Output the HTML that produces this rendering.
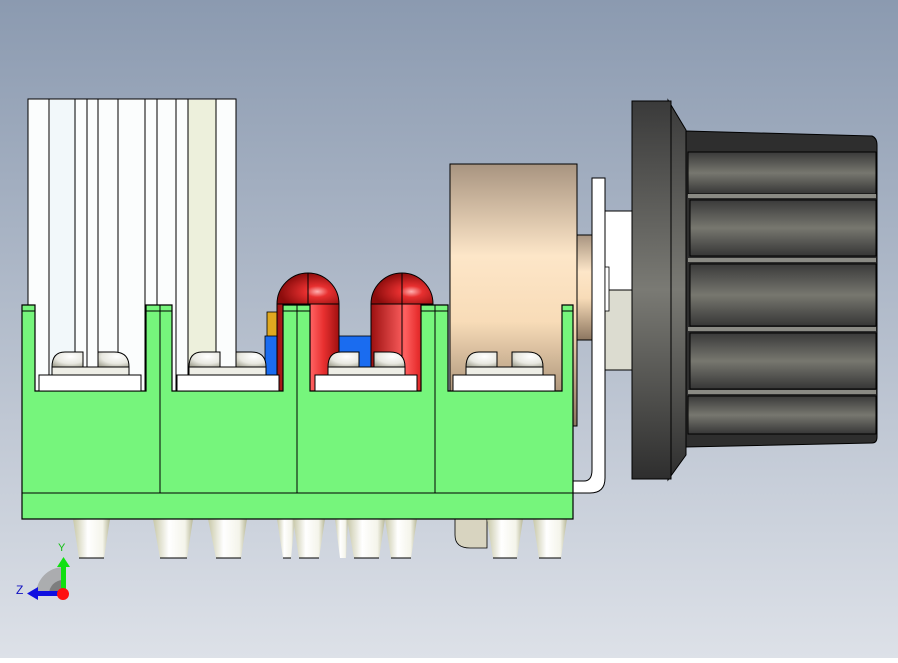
<!DOCTYPE html>
<html><head><meta charset="utf-8"><style>html,body{margin:0;padding:0}body{width:898px;height:658px;overflow:hidden}</style></head>
<body>
<svg width="898" height="658" viewBox="0 0 898 658" xmlns="http://www.w3.org/2000/svg" font-family="Liberation Sans, sans-serif">
<defs>
<linearGradient id="bg" x1="0" y1="0" x2="0" y2="1"><stop offset="0" stop-color="#8b9ab0"/><stop offset="1" stop-color="#dde1e8"/></linearGradient>
<linearGradient id="pin" x1="0" y1="0" x2="1" y2="0"><stop offset="0" stop-color="#c8c8a8"/><stop offset="0.4" stop-color="#ffffff"/><stop offset="0.8" stop-color="#f4f4ea"/><stop offset="1" stop-color="#b8b898"/></linearGradient>
<linearGradient id="tan" x1="0" y1="0" x2="0" y2="1"><stop offset="0" stop-color="#a89480"/><stop offset="0.35" stop-color="#fde6c8"/><stop offset="0.6" stop-color="#f8dcb8"/><stop offset="1" stop-color="#8c7660"/></linearGradient>
<linearGradient id="red" x1="0" y1="0" x2="1" y2="0"><stop offset="0" stop-color="#9c1010"/><stop offset="0.55" stop-color="#ff6060"/><stop offset="0.75" stop-color="#e83030"/><stop offset="1" stop-color="#a01010"/></linearGradient>
<radialGradient id="dome" cx="0.65" cy="0.6" r="0.6"><stop offset="0" stop-color="#ffb0b0"/><stop offset="0.3" stop-color="#e83030"/><stop offset="1" stop-color="#8c0c0c"/></radialGradient>
<linearGradient id="flange" x1="0" y1="0" x2="0" y2="1"><stop offset="0" stop-color="#3a3a3a"/><stop offset="0.5" stop-color="#7a7a74"/><stop offset="1" stop-color="#2e2e2e"/></linearGradient>
<linearGradient id="rib" x1="0" y1="0" x2="0" y2="1"><stop offset="0" stop-color="#3a3a3a"/><stop offset="0.5" stop-color="#77776f"/><stop offset="1" stop-color="#363636"/></linearGradient>
<radialGradient id="screw" cx="0.6" cy="0.3" r="0.8"><stop offset="0" stop-color="#ffffff"/><stop offset="0.6" stop-color="#e8e8e0"/><stop offset="1" stop-color="#a8a898"/></radialGradient>
</defs>
<rect width="898" height="658" fill="url(#bg)"/>

<!-- heatsink -->
<rect x="28" y="99" width="208" height="292" fill="#fbfdfd" stroke="#000" stroke-width="1"/>
<rect x="50" y="100" width="26" height="290" fill="#f2f8fa"/>
<rect x="188" y="100" width="28" height="290" fill="#edf0dc"/>
<g stroke="#000" stroke-width="1">
<line x1="49" y1="99" x2="49" y2="391"/><line x1="75" y1="99" x2="75" y2="391"/><line x1="87" y1="99" x2="87" y2="391"/>
<line x1="98" y1="99" x2="98" y2="391"/><line x1="118" y1="99" x2="118" y2="391"/><line x1="145" y1="99" x2="145" y2="391"/>
<line x1="157" y1="99" x2="157" y2="391"/><line x1="176" y1="99" x2="176" y2="391"/><line x1="188" y1="99" x2="188" y2="391"/>
<line x1="216" y1="99" x2="216" y2="391"/>
</g>

<rect x="267" y="312" width="10" height="26" fill="#e0a820" stroke="#000" stroke-width="0.8"/>
<rect x="265" y="336" width="170" height="40" fill="#1a6cf0" stroke="#000" stroke-width="0.8"/>

<g stroke="#000" stroke-width="1">
<path d="M277 304 A31 31 0 0 1 339 304 Z" fill="url(#dome)"/>
<rect x="277" y="304" width="62" height="88" fill="url(#red)"/>
<line x1="308" y1="273" x2="308" y2="392"/>
<path d="M371 304 A31 31 0 0 1 433 304 Z" fill="url(#dome)"/>
<rect x="371" y="304" width="62" height="88" fill="url(#red)"/>
<line x1="402" y1="273" x2="402" y2="392"/>
</g>

<rect x="577" y="235" width="17" height="105" fill="url(#tan)" stroke="#000" stroke-width="1"/>
<rect x="450" y="164" width="127" height="262" fill="url(#tan)" stroke="#000" stroke-width="1"/>
<rect x="605" y="211" width="28" height="79" fill="#ffffff" stroke="#000" stroke-width="1"/>
<rect x="605" y="290" width="28" height="80" fill="#dcdcd0" stroke="#000" stroke-width="1"/>
<path d="M592 178 H605 V478 Q605 493 590 493 H573 V481 H584 Q592 481 592 470 Z" fill="#fff" stroke="#000" stroke-width="1"/>
<rect x="605" y="267" width="4" height="44" fill="#fff" stroke="#000" stroke-width="0.8"/>

<!-- knob -->
<path d="M668 100 L686 130 L686 455 L668 480 Z" fill="url(#flange)" stroke="#000" stroke-width="1"/>
<rect x="632" y="101" width="39" height="378" fill="url(#flange)" stroke="#000" stroke-width="1"/>
<path d="M686 131 L872 136 Q877 138 877 145 L877 437 Q877 443 872 443 L686 447 Z" fill="#2e2e2e" stroke="#000" stroke-width="1"/>
<g stroke="#000" stroke-width="1">
<rect x="688" y="152" width="188" height="42" fill="url(#rib)"/>
<rect x="690" y="200" width="186" height="56" fill="url(#rib)"/>
<rect x="690" y="264" width="186" height="62" fill="url(#rib)"/>
<rect x="690" y="333" width="186" height="56" fill="url(#rib)"/>
<rect x="688" y="396" width="188" height="38" fill="url(#rib)"/>
</g>
<g fill="#8a8a84">
<rect x="688" y="194" width="188" height="4"/><rect x="688" y="258" width="188" height="4"/>
<rect x="688" y="327" width="188" height="4"/><rect x="688" y="390" width="188" height="4"/>
</g>

<g fill="url(#pin)">
<path d="M455 519 H487 V548 H470 Q455 548 455 535 Z" fill="#d8d4c0" stroke="#000" stroke-width="0.8"/>
<path d="M73 519 H110 L104 558 H79 Z"/>
<path d="M153 519 H193 L187 558 H160 Z"/>
<path d="M208 519 H247 L241 558 H216 Z"/>
<path d="M277 519 H295 L291 558 H283 Z"/>
<path d="M293 519 H325 L319 558 H299 Z"/>
<path d="M335 519 H348 L346 558 H340 Z"/>
<path d="M347 519 H385 L379 558 H354 Z"/>
<path d="M385 519 H417 L411 558 H391 Z"/>
<path d="M487 519 H523 L517 558 H493 Z"/>
<path d="M533 519 H567 L561 558 H539 Z"/>
</g>
<g stroke="#000" stroke-width="1">
<line x1="79" y1="558" x2="104" y2="558"/><line x1="160" y1="558" x2="187" y2="558"/><line x1="216" y1="558" x2="241" y2="558"/>
<line x1="283" y1="558" x2="291" y2="558"/><line x1="299" y1="558" x2="319" y2="558"/><line x1="354" y1="558" x2="379" y2="558"/>
<line x1="391" y1="558" x2="411" y2="558"/><line x1="493" y1="558" x2="517" y2="558"/><line x1="539" y1="558" x2="561" y2="558"/>
</g>

<path d="M22 305 H35 V391 H146 V305 H172 V391 H283 V305 H310 V391 H421 V305 H448 V391 H562 V305 H573 V519 H22 Z" fill="#76f57c" stroke="#000" stroke-width="1.2"/>
<g stroke="#000" stroke-width="1">
<line x1="22" y1="493" x2="573" y2="493"/>
<line x1="160" y1="305" x2="160" y2="493"/>
<line x1="297" y1="305" x2="297" y2="493"/>
<line x1="435" y1="305" x2="435" y2="493"/>
<line x1="22" y1="311" x2="35" y2="311"/><line x1="146" y1="311" x2="172" y2="311"/>
<line x1="283" y1="311" x2="310" y2="311"/><line x1="421" y1="311" x2="448" y2="311"/><line x1="562" y1="311" x2="573" y2="311"/>
</g>

<g stroke="#000" stroke-width="1">
<g>
<path d="M52 367 Q52 352 65 352 H83 V367 Z" fill="url(#screw)"/><path d="M98 367 V352 H114 Q129 352 129 367 Z" fill="url(#screw)"/>
<rect x="52" y="367" width="77" height="8" fill="#eeeee6"/>
<rect x="39" y="375" width="102" height="16" fill="#fff"/>
</g>
<g>
<path d="M189 367 Q189 352 202 352 H220 V367 Z" fill="url(#screw)"/><path d="M236 367 V352 H251 Q266 352 266 367 Z" fill="url(#screw)"/>
<rect x="189" y="367" width="77" height="8" fill="#eeeee6"/>
<rect x="177" y="375" width="102" height="16" fill="#fff"/>
</g>
<g>
<path d="M328 367 Q328 352 341 352 H359 V367 Z" fill="url(#screw)"/><path d="M374 367 V352 H390 Q405 352 405 367 Z" fill="url(#screw)"/>
<rect x="328" y="367" width="77" height="8" fill="#eeeee6"/>
<rect x="315" y="375" width="102" height="16" fill="#fff"/>
</g>
<g>
<path d="M466 367 Q466 352 479 352 H497 V367 Z" fill="url(#screw)"/><path d="M512 367 V352 H528 Q543 352 543 367 Z" fill="url(#screw)"/>
<rect x="466" y="367" width="77" height="8" fill="#eeeee6"/>
<rect x="453" y="375" width="102" height="16" fill="#fff"/>
</g>
</g>

<path d="M63 567 A28 28 0 0 0 36 594 H63 Z" fill="#9a9a9a" opacity="0.7"/>
<path d="M63 580 A14 14 0 0 0 49 594 H63 Z" fill="#6a6a6a" opacity="0.7"/>
<rect x="61" y="565" width="5" height="26" fill="#10e010"/>
<path d="M57 567 L63.5 557 L70 567 Z" fill="#10e010"/>
<rect x="36" y="591" width="26" height="5" fill="#1010e0"/>
<path d="M38 587 L27 593.5 L38 600 Z" fill="#1010e0"/>
<circle cx="63" cy="594" r="6" fill="#ff1010"/>
<text x="58" y="551" font-size="11" fill="#10c010">Y</text>
<text x="16" y="594" font-size="12" fill="#1010c0">Z</text>
</svg>
</body></html>
